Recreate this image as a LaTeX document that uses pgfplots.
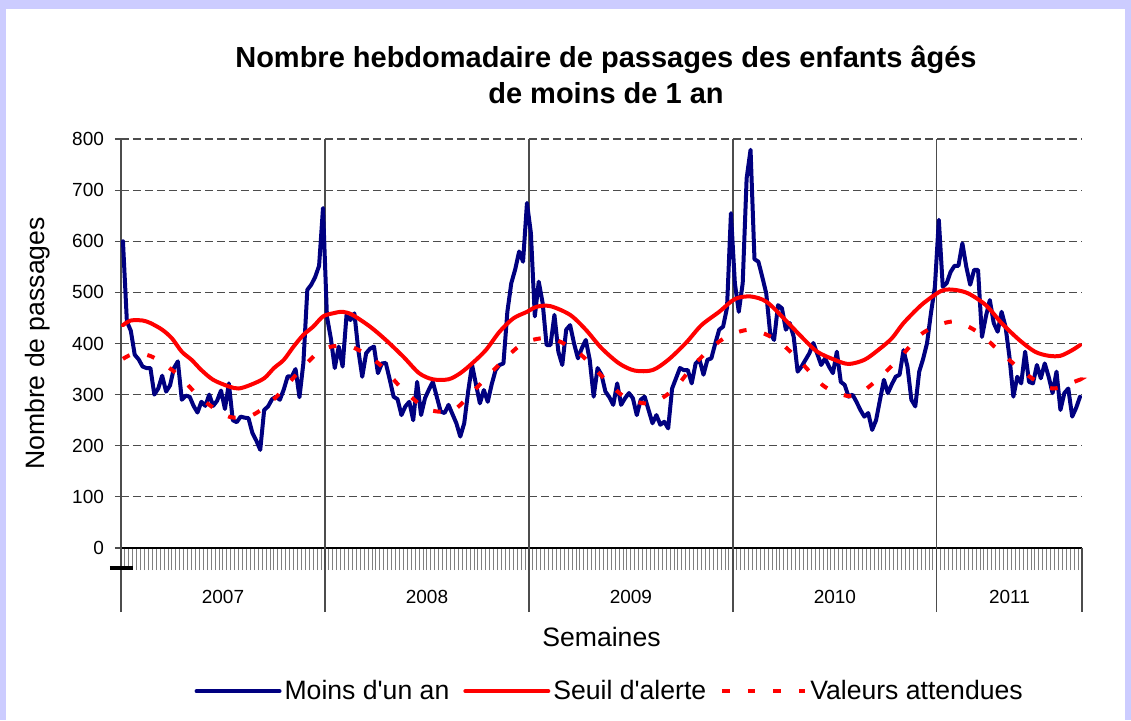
\documentclass[border=0pt]{standalone}
\usepackage{pgfplots}
\pgfplotsset{compat=1.18}
\usepackage{fontspec}
\setmainfont{Liberation Sans}[Ligatures=TeXOff]
\definecolor{lav}{RGB}{204,204,255}
\definecolor{navyb}{RGB}{0,0,128}
\definecolor{redl}{RGB}{255,0,0}
\begin{document}
\begin{tikzpicture}
\fill[lav] (-60.5pt,-86pt) rectangle (505pt,274pt);
\fill[white] (-57.5pt,-86pt) rectangle (502pt,269.5pt);
\path[use as bounding box] (-60.5pt,-86pt) rectangle (505pt,274pt);
\begin{axis}[
  at={(0pt,0pt)}, anchor=south west,
  scale only axis, width=480.5pt, height=204.5pt,
  xmin=-0.5, xmax=244.5, ymin=0, ymax=800,
  clip=false,
  axis x line=bottom, axis y line=left, axis line style={-},
  x axis line style={black, line width=0.6pt},
  y axis line style={black!70, line width=0.6pt},
  ytick={0,100,...,800},
  xtick={-0.5,0.5,...,244.5},
  xticklabels={},
  tick align=outside,
  major tick length=3pt,
  xtick style={/pgfplots/major tick length=11pt, black!50, line width=0.5pt},
  ytick style={black!70, line width=0.6pt},
  ymajorgrids, y grid style={black!70, dash pattern=on 4pt off 2pt, line width=0.6pt},
  extra x ticks={-0.5,51.5,103.5,155.5,207.5},
  extra x tick labels={},
  extra x tick style={grid=major, major grid style={solid, black!70, line width=0.6pt}, xtick style={/pgfplots/major tick length=32pt, black!70, line width=0.6pt}},
  /pgf/number format/assume math mode=true,
  yticklabel style={font=\fontsize{9.5}{11}\selectfont, xshift=-2pt},
  ylabel={Nombre de passages},
  ylabel style={at={(axis description cs:-0.0864,0.5)}, anchor=center, font=\fontsize{13.3}{16}\selectfont},
  xlabel={Semaines},
  xlabel style={at={(axis description cs:0.5,-0.2176)}, anchor=center, font=\fontsize{13.3}{16}\selectfont},
  title={Nombre hebdomadaire de passages des enfants âgés\\de moins de 1 an},
  title style={at={(axis description cs:0.5047,1.127)}, anchor=center, align=center, font=\bfseries\fontsize{14.5}{18}\selectfont},
  legend style={at={(axis description cs:0.509,-0.35)}, anchor=center, draw=none, fill=none, font=\fontsize{13.3}{16}\selectfont, /tikz/every even column/.append style={column sep=5.5pt}, inner sep=0pt, nodes={inner sep=1.5pt}},
  legend columns=3,
  legend image code/.code={\draw[#1] (0pt,0pt) -- (41.5pt,0pt);},
]
\addplot[navyb, line width=2pt, line join=round, line cap=round] coordinates {
(0,600) (1,443) (2,425) (3,378) (4,369) (5,355) (6,352) (7,352) (8,300) (9,312) (10,337) (11,306) (12,318) (13,352) (14,365) (15,290) (16,298) (17,296) (18,278) (19,265) (20,286) (21,278) (22,300) (23,278) (24,288) (25,308) (26,272) (27,322) (28,250) (29,246) (30,257) (31,255) (32,254) (33,225) (34,210) (35,192) (36,270) (37,277) (38,291) (39,296) (40,290) (41,310) (42,336) (43,335) (44,350) (45,295) (46,362) (47,505) (48,515) (49,530) (50,552) (51,665)
(52,453) (53,410) (54,352) (55,394) (56,355) (57,456) (58,446) (59,459) (60,387) (61,335) (62,381) (63,390) (64,394) (65,342) (66,361) (67,362) (68,330) (69,296) (70,291) (71,260) (72,277) (73,286) (74,250) (75,325) (76,260) (77,293) (78,310) (79,325) (80,296) (81,267) (82,264) (83,280) (84,262) (85,244) (86,218) (87,244) (88,306) (89,358) (90,320) (91,283) (92,309) (93,286) (94,320) (95,348) (96,358) (97,361) (98,462) (99,518) (100,545) (101,580) (102,560) (103,675)
(104,616) (105,453) (106,521) (107,479) (108,397) (109,397) (110,456) (111,384) (112,358) (113,427) (114,436) (115,400) (116,371) (117,391) (118,407) (119,368) (120,296) (121,352) (122,339) (123,306) (124,295) (125,280) (126,322) (127,280) (128,293) (129,303) (130,293) (131,260) (132,290) (133,296) (134,270) (135,244) (136,260) (137,241) (138,247) (139,234) (140,312) (141,332) (142,352) (143,348) (144,348) (145,322) (146,361) (147,368) (148,339) (149,368) (150,371) (151,400) (152,427) (153,433) (154,470) (155,655)
(156,518) (157,462) (158,518) (159,723) (160,779) (161,565) (162,560) (163,530) (164,498) (165,420) (166,407) (167,475) (168,469) (169,427) (170,440) (171,413) (172,345) (173,355) (174,368) (175,381) (176,401) (177,380) (178,358) (179,371) (180,355) (181,342) (182,384) (183,325) (184,319) (185,296) (186,300) (187,286) (188,270) (189,257) (190,264) (191,231) (192,250) (193,290) (194,329) (195,303) (196,320) (197,335) (198,339) (199,387) (200,355) (201,290) (202,277) (203,345) (204,370) (205,401) (206,460) (207,511)
(208,642) (209,511) (210,518) (211,540) (212,552) (213,552) (214,596) (215,550) (216,515) (217,544) (218,544) (219,413) (220,453) (221,485) (222,440) (223,423) (224,462) (225,433) (226,374) (227,296) (228,335) (229,322) (230,384) (231,325) (232,322) (233,358) (234,332) (235,361) (236,335) (237,303) (238,345) (239,270) (240,303) (241,312) (242,257) (243,274) (244,296)
};
\addlegendentry{Moins d'un an}
\addplot[redl, line width=2pt, line cap=round, smooth] coordinates {
(0,436) (2,445) (5,445) (7,440) (10,427) (12.5,410) (15,384) (17.5,368) (20,348) (23,329) (27,316) (29.5,312) (32.5,319) (36,332) (38.5,352) (41,368) (43.5,394) (46,417) (48.5,433) (51,453) (53.5,459) (56,462) (58.5,456) (63,433) (67,407) (71.5,374) (75.5,342) (79,330) (83,330) (86,342) (89,361) (92.5,387) (96,423) (99.5,449) (103,462) (105.5,472) (109,473) (114,456) (118,427) (122,391) (126.5,361) (130.5,347) (135,348) (139,368) (143.5,401) (147.5,436) (152,462) (156,487) (160,492) (164,482) (168.5,449) (173,413) (177,384) (181.5,368) (185,360) (189,368) (192.5,387) (196,410) (199,440) (203.5,475) (207.5,498) (209.5,505) (212,505) (215.5,498) (220,475) (224,440) (228.5,407) (232.5,384) (236,376) (239,376) (242,387) (244,397)
};
\addlegendentry{Seuil d'alerte}
\addplot[redl, line width=2pt, dash pattern=on 3.8pt off 9pt, smooth] coordinates {
(0,370) (2,378) (4.5,380) (8,372) (14,339) (20,292) (27,257) (33,260) (39,295) (45,346) (51,389) (58,394) (65,362) (71,313) (77.5,272) (84,269) (89,304) (95,352) (102,400) (109,410) (116,383) (122,337) (128,295) (134.5,283) (140.5,311) (146,362) (153,409) (160,427) (167,405) (173,362) (179,315) (186,297) (192,327) (198.5,376) (204,421) (211.5,443) (218,422) (224,381) (231,336) (237,312) (243.5,328) (244,330)
};
\addlegendentry{Valeurs attendues}
\coordinate (Y1) at (axis cs:25.5,0);
\coordinate (Y2) at (axis cs:77.5,0);
\coordinate (Y3) at (axis cs:129.5,0);
\coordinate (Y4) at (axis cs:181.5,0);
\coordinate (Y5) at (axis cs:226,0);
\coordinate (XE) at (axis cs:244.5,0);
\end{axis}
\draw[black!70, line width=0.6pt] (XE) -- ++(0,-32pt);
\draw[black, line width=2pt] (-5.5pt,-10pt) -- (6pt,-10pt);
\foreach \n/\t in {Y1/2007,Y2/2008,Y3/2009,Y4/2010,Y5/2011}
  \node[font=\fontsize{9.5}{11}\selectfont, anchor=center] at ([yshift=-24.5pt]\n) {\t};
\end{tikzpicture}
\end{document}
